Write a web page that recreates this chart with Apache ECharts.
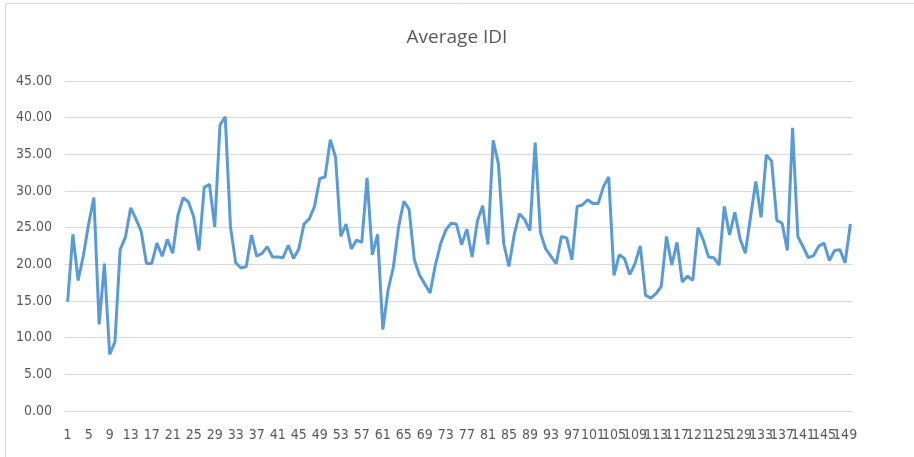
<!DOCTYPE html>
<html>
<head>
<meta charset="utf-8">
<script src="https://cdn.jsdelivr.net/npm/echarts@6/dist/echarts.min.js"></script>
<style>
  html, body { margin: 0; padding: 0; background: #fff; }
  #main { width: 914px; height: 457px; }
</style>
</head>
<body>
<div id="main"></div>
<script>
// x categories are just the observation numbers 1..150
const categories = Array.from({ length: 150 }, (_, i) => String(i + 1))

// values
const avgIDI = [
  14.9, 24.1, 17.8, 21.2, 25.5, 29.1, 11.8, 20.1, 7.7, 9.4,
  22.0, 23.7, 27.7, 26.2, 24.5, 20.1, 20.1, 22.9, 21.1, 23.4,
  21.5, 26.7, 29.1, 28.5, 26.5, 21.9, 30.5, 30.9, 25.1, 39.0,
  40.1, 25.1, 20.2, 19.5, 19.7, 24.0, 21.1, 21.5, 22.4, 21.0,
  21.0, 20.9, 22.6, 20.8, 22.1, 25.5, 26.2, 27.9, 31.7, 31.9,
  37.0, 34.6, 23.8, 25.5, 22.1, 23.3, 23.0, 31.8, 21.3, 24.1,
  11.1, 16.5, 19.6, 25.1, 28.6, 27.5, 20.6, 18.5, 17.3, 16.1,
  19.9, 22.8, 24.7, 25.6, 25.5, 22.7, 24.8, 21.0, 25.9, 28.0,
  22.7, 36.9, 33.7, 22.9, 19.7, 24.0, 26.9, 26.1, 24.6, 36.6,
  24.3, 22.1, 21.1, 20.1, 23.8, 23.6, 20.6, 27.9, 28.1, 28.8,
  28.3, 28.3, 30.6, 31.9, 18.5, 21.3, 20.8, 18.6, 20.1, 22.5,
  15.8, 15.4, 16.0, 17.0, 23.8, 19.9, 23.0, 17.6, 18.4, 17.8,
  25.0, 23.3, 21.0, 20.9, 19.9, 27.9, 24.0, 27.1, 23.5, 21.5,
  26.5, 31.3, 26.4, 34.9, 34.1, 26.0, 25.6, 21.9, 38.6, 23.8,
  22.4, 20.9, 21.2, 22.5, 22.9, 20.5, 21.9, 22.0, 20.2, 25.5
]

const labelFont = '"Liberation Sans Narrow", "DejaVu Sans Condensed", sans-serif'

const myChart = echarts.init(document.getElementById('main'))
myChart.setOption({
  backgroundColor: '#fff',
  animation: false,
  title: {
    text: 'Average IDI',
    left: 'center',
    top: 23,
    textStyle: {
      fontFamily: '"Open Sans", sans-serif',
      fontSize: 19,
      fontWeight: 'normal',
      color: '#595959'
    }
  },
  // thin frame round the chart, like the spreadsheet export
  graphic: [{
    type: 'rect',
    shape: { x: 5.5, y: 3.5, width: 920, height: 460 },
    style: { fill: 'none', stroke: '#d9d9d9', lineWidth: 1 },
    silent: true
  }],
  grid: { left: 65, right: 61, top: 81, bottom: 46 },
  xAxis: {
    type: 'category',
    data: categories,
    boundaryGap: true,
    axisLine: { lineStyle: { color: '#d9d9d9' } },
    axisTick: { show: false },
    axisLabel: {
      // every 4th number: 1, 5, 9 ... 149, plus an empty label on the last
      // category so echarts' min/max overlap check drops that one, not 145/149
      interval: (i) => i % 4 === 0 || i === categories.length - 1,
      formatter: (v, i) => (i % 4 === 0 ? v : ''),
      hideOverlap: false,
      margin: 17,
      fontFamily: labelFont,
      fontSize: 14,
      color: '#595959'
    }
  },
  yAxis: {
    type: 'value',
    min: 0,
    max: 45,
    interval: 5,
    axisLine: { show: false },
    axisTick: { show: false },
    splitLine: { lineStyle: { color: '#d9d9d9' } },
    axisLabel: {
      margin: 13,
      fontFamily: labelFont,
      fontSize: 14,
      color: '#595959',
      formatter: v => v.toFixed(2)
    }
  },
  series: [{
    name: 'Average IDI',
    type: 'line',
    data: avgIDI,
    symbol: 'none',
    lineStyle: { color: '#5B9BD5', width: 3 },
    itemStyle: { color: '#5B9BD5' }
  }]
})
</script>
</body>
</html>
